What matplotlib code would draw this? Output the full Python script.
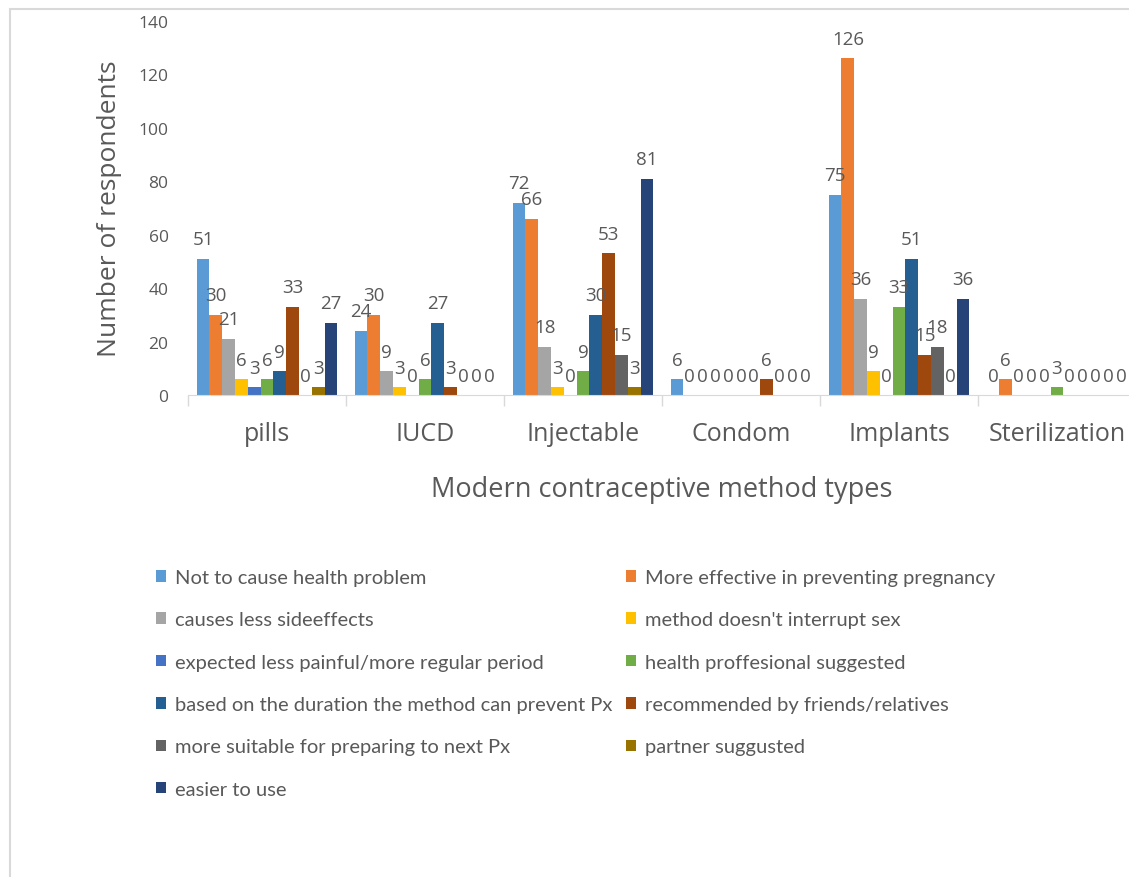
import numpy as np
import matplotlib.pyplot as plt
from matplotlib.patches import Rectangle

methods = ["pills", "IUCD", "Injectable", "Condom", "Implants", "Sterilization"]

reasons = [
    "Not to cause health problem",
    "More effective in preventing pregnancy",
    "causes less sideeffects",
    "method doesn't interrupt sex",
    "expected less painful/more regular period",
    "health proffesional suggested",
    "based on the duration the method can prevent Px",
    "recommended by friends/relatives",
    "more suitable for preparing to next Px",
    "partner suggusted",
    "easier to use",
]

# one row per reason, one value per method
not_health_problem = [51, 24, 72, 6, 75, 0]
more_effective = [30, 30, 66, 0, 126, 6]
less_sideeffects = [21, 9, 18, 0, 36, 0]
no_interrupt_sex = [6, 3, 3, 0, 9, 0]
less_painful = [3, 0, 0, 0, 0, 0]
health_prof = [6, 6, 9, 0, 33, 3]
duration = [9, 27, 30, 0, 51, 0]
friends = [33, 3, 53, 6, 15, 0]
next_px = [0, 0, 15, 0, 18, 0]
partner = [3, 0, 3, 0, 0, 0]
easier = [27, 0, 81, 0, 36, 0]

series = [not_health_problem, more_effective, less_sideeffects, no_interrupt_sex,
          less_painful, health_prof, duration, friends, next_px, partner, easier]

colors = ["#5B9BD5", "#ED7D31", "#A5A5A5", "#FFC000", "#4472C4", "#70AD47",
          "#255E91", "#9E480E", "#636363", "#997300", "#264478"]

txt = "#595959"
plt.rcParams["font.family"] = ["Open Sans", "DejaVu Sans"]

fig = plt.figure(figsize=(11.29, 8.78), dpi=100)
ax = fig.add_axes([188 / 1129, 0.549, 948 / 1129, 0.426])

x = np.arange(len(methods))
w = 0.081
handles = []
for i, (vals, c) in enumerate(zip(series, colors)):
    pos = x - 5 * w + i * w
    b = ax.bar(pos, vals, width=w, color=c, label=reasons[i])
    ax.bar_label(b, labels=[str(v) for v in vals], padding=7.5, fontsize=13.5, color=txt)
    handles.append(b)

ax.set_xlim(-0.5, 5.5)
ax.set_ylim(0, 140)
ax.set_yticks(range(0, 141, 20))
ax.set_xticks(x)
ax.set_xticklabels(methods, fontsize=18, color=txt)
ax.set_xticks(np.arange(-0.5, 6, 1), minor=True)
ax.tick_params(axis="x", which="major", length=0, pad=18.5)
ax.tick_params(axis="x", which="minor", length=8, color="#D9D9D9", width=1)
ax.tick_params(axis="y", length=0, pad=14, labelsize=12.5, labelcolor=txt)
for s in ["top", "right", "left"]:
    ax.spines[s].set_visible(False)
ax.spines["bottom"].set_color("#D9D9D9")

ax.set_ylabel("Number of respondents", fontsize=19, color=txt, labelpad=12)
ax.set_xlabel("Modern contraceptive method types", fontsize=19.5, color=txt, labelpad=21)

order = [0, 2, 4, 6, 8, 10, 1, 3, 5, 7, 9]
leg = fig.legend([handles[k] for k in order], [reasons[k] for k in order],
                 loc="upper left", bbox_to_anchor=(156 / 1129, 1 - 570 / 878),
                 ncol=2, frameon=False, borderaxespad=0, borderpad=0,
                 handlelength=0.5, handleheight=0.5, handletextpad=0.45,
                 columnspacing=0.65, labelspacing=1.26,
                 prop={"family": ["Lato", "DejaVu Sans"], "size": 14.5})
for t in leg.get_texts():
    t.set_color(txt)

# chart frame
fig.patches.append(Rectangle((10 / 1129, -0.1), 1.2, 1 - 10 / 878 + 0.1,
                             transform=fig.transFigure, fill=False,
                             edgecolor="#D9D9D9", linewidth=1.5))

fig.savefig("out.png", dpi=100)
